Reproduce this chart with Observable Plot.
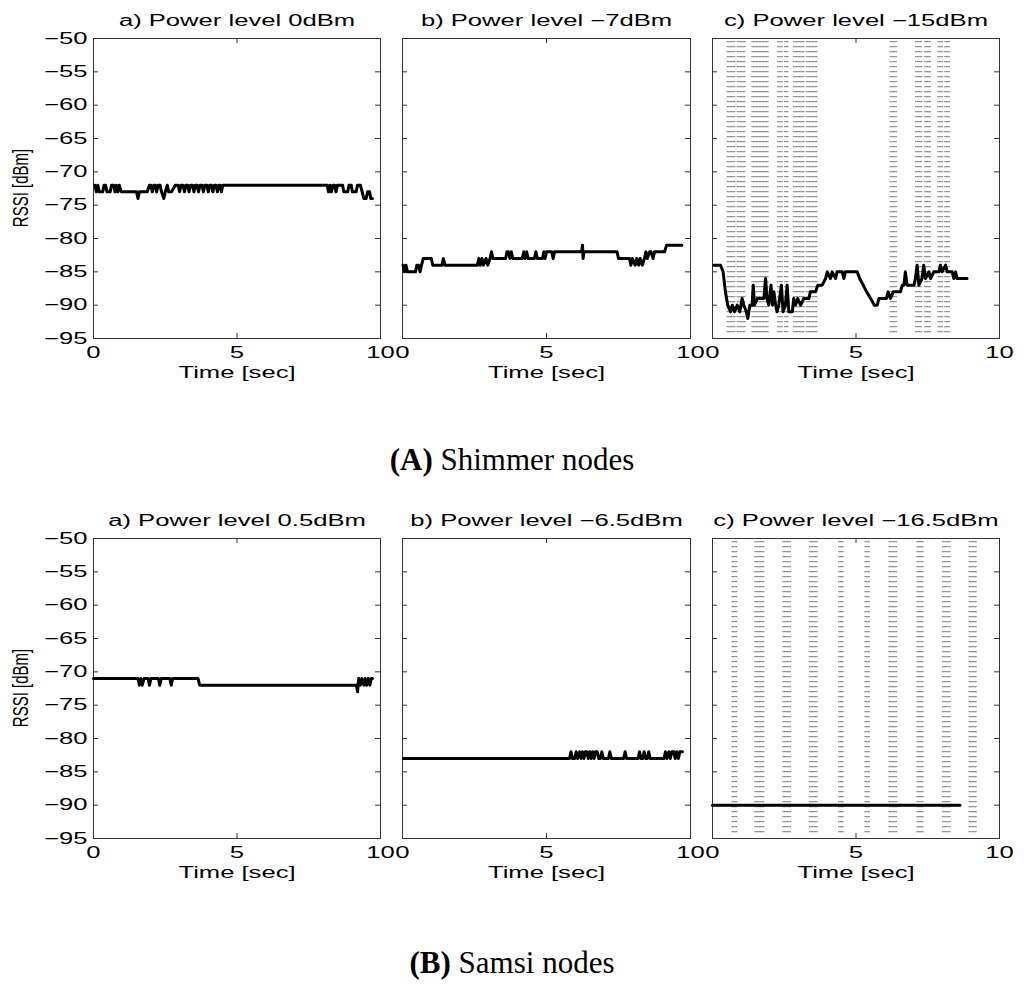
<!DOCTYPE html>
<html><head><meta charset="utf-8">
<script src="https://cdn.jsdelivr.net/npm/d3@7"></script>
<script src="https://cdn.jsdelivr.net/npm/@observablehq/plot@0.6"></script>
<style>
body{margin:0;background:#fff;}
#root{position:relative;width:1024px;height:985px;overflow:hidden;background:#fff;}
.cell{position:absolute;}
.cap{position:absolute;left:0;width:1024px;text-align:center;font-family:"Liberation Serif","Times New Roman",serif;font-size:31px;line-height:31px;color:#000;}
.ylab{position:absolute;white-space:nowrap;font-family:"Liberation Sans",Arial,Helvetica,sans-serif;font-size:15px;line-height:15px;color:#000;transform:translate(-50%,-50%) rotate(-90deg) scaleY(1.5);}
</style></head><body><div id="root"></div>
<script>
// ---- axis ticks / labels ----
const xTicks = [0, 5, 10];
const yTicks = [-50, -55, -60, -65, -70, -75, -80, -85, -90, -95];
const yLabel = "RSSI [dBm]";
const xLabel = "Time [sec]";
const shimmerTitles = ["a) Power level 0dBm", "b) Power level \u22127dBm", "c) Power level \u221215dBm"];
const samsiTitles = ["a) Power level 0.5dBm", "b) Power level \u22126.5dBm", "c) Power level \u221216.5dBm"];
const captions = [["(A)", " Shimmer nodes"], ["(B)", " Samsi nodes"]];

// ---- RSSI series [time sec, dBm] ----
const shimmer0 = [[0.05,-72],[0.1,-73],[0.15,-72],[0.2,-73],[0.32,-73],[0.37,-72],[0.42,-72],[0.47,-73],[0.58,-73],[0.63,-72],[0.7,-72],[0.75,-73],[0.8,-72],[0.85,-73],[0.9,-72],[0.97,-73],[1.5,-73],[1.55,-74],[1.6,-73],[1.87,-73],[1.95,-72],[2.0,-72],[2.05,-73],[2.1,-72],[2.15,-72],[2.2,-73],[2.25,-72],[2.32,-72],[2.37,-73],[2.45,-74],[2.5,-73],[2.57,-72],[2.62,-73],[2.72,-73],[2.85,-72],[2.95,-72],[3.0,-73],[3.05,-72],[3.12,-72],[3.17,-73],[3.22,-72],[3.28,-72],[3.33,-73],[3.38,-72],[3.45,-72],[3.5,-73],[3.55,-72],[3.61,-72],[3.66,-73],[3.71,-72],[3.78,-72],[3.83,-73],[3.88,-72],[3.95,-72],[4.0,-73],[4.05,-72],[4.11,-72],[4.16,-73],[4.21,-72],[4.27,-72],[4.32,-73],[4.37,-72],[4.41,-72],[4.46,-73],[4.5,-72],[8.14,-72],[8.19,-73],[8.24,-72],[8.29,-73],[8.34,-72],[8.4,-72],[8.45,-73],[8.5,-72],[8.68,-72],[8.72,-73],[8.86,-73],[8.9,-72],[8.98,-72],[9.02,-73],[9.15,-73],[9.2,-72],[9.3,-72],[9.36,-73],[9.42,-74],[9.5,-74],[9.55,-73],[9.62,-73],[9.66,-74],[9.72,-74]];
const shimmer7 = [[0.02,-84],[0.07,-85],[0.12,-84],[0.17,-85],[0.45,-85],[0.5,-84],[0.56,-84],[0.61,-85],[0.66,-84],[0.72,-83],[1.0,-83],[1.05,-84],[1.37,-84],[1.42,-83],[1.47,-84],[2.6,-84],[2.65,-83],[2.7,-84],[2.76,-83],[2.81,-84],[2.9,-83],[2.96,-84],[3.04,-83],[3.09,-82],[3.14,-83],[3.58,-83],[3.63,-82],[3.68,-82],[3.73,-83],[3.78,-82],[3.83,-83],[4.16,-83],[4.21,-82],[4.26,-83],[4.31,-82],[4.36,-83],[4.58,-83],[4.63,-82],[4.68,-83],[4.86,-83],[4.91,-82],[4.95,-83],[5.0,-82],[5.18,-82],[5.23,-83],[5.28,-82],[6.22,-82],[6.25,-81],[6.27,-83],[6.3,-82],[7.45,-82],[7.5,-83],[7.88,-83],[7.93,-84],[7.98,-83],[8.08,-84],[8.13,-83],[8.2,-84],[8.25,-83],[8.33,-84],[8.4,-83],[8.45,-82],[8.5,-83],[8.58,-82],[8.63,-82],[8.7,-83],[8.75,-82],[9.1,-82],[9.17,-81],[9.7,-81]];
const shimmer15 = [[0.05,-84],[0.28,-84],[0.37,-85],[0.45,-88],[0.53,-90],[0.63,-91],[0.69,-90],[0.77,-91],[0.86,-90],[0.95,-91],[1.03,-89],[1.09,-90],[1.18,-91],[1.23,-92],[1.3,-90],[1.38,-90],[1.42,-87],[1.46,-90],[1.56,-89],[1.67,-89],[1.79,-89],[1.85,-86],[1.9,-89],[1.96,-90],[2.04,-87],[2.09,-90],[2.14,-88],[2.2,-90],[2.25,-91],[2.31,-90],[2.4,-87],[2.46,-91],[2.54,-90],[2.6,-87],[2.66,-91],[2.78,-91],[2.83,-89],[2.89,-90],[2.97,-89],[3.07,-90],[3.18,-89],[3.36,-89],[3.41,-88],[3.59,-88],[3.67,-87],[3.82,-87],[3.94,-86],[4.0,-85],[4.11,-86],[4.17,-85],[4.29,-86],[4.34,-85],[4.52,-85],[4.58,-86],[4.63,-85],[5.04,-85],[5.13,-86],[5.25,-87],[5.37,-88],[5.51,-89],[5.64,-90],[5.74,-90],[5.8,-89],[6.06,-89],[6.12,-88],[6.2,-89],[6.3,-88],[6.55,-88],[6.61,-87],[6.67,-87],[6.72,-85],[6.78,-87],[7.02,-87],[7.07,-86],[7.13,-84],[7.19,-87],[7.3,-86],[7.36,-84],[7.42,-86],[7.54,-85],[7.6,-86],[7.71,-85],[7.89,-85],[7.94,-84],[8.0,-85],[8.12,-84],[8.18,-85],[8.35,-85],[8.41,-86],[8.47,-85],[8.52,-86],[8.87,-86]];
const samsi05 = [[0.0,-71],[1.55,-71],[1.6,-72],[1.65,-71],[1.7,-72],[1.76,-71],[1.9,-71],[1.95,-72],[2.0,-71],[2.26,-71],[2.31,-72],[2.36,-71],[2.66,-71],[2.71,-72],[2.76,-71],[3.64,-71],[3.7,-72],[9.16,-72],[9.2,-73],[9.24,-71],[9.3,-72],[9.35,-71],[9.42,-72],[9.47,-71],[9.52,-72],[9.57,-71],[9.63,-72],[9.68,-71],[9.72,-71]];
const samsi65 = [[0.03,-83],[5.8,-83],[5.85,-82],[5.9,-83],[5.98,-83],[6.03,-82],[6.08,-83],[6.15,-82],[6.2,-83],[6.25,-82],[6.3,-83],[6.35,-82],[6.4,-82],[6.45,-83],[6.5,-82],[6.55,-83],[6.6,-82],[6.65,-83],[6.7,-82],[6.76,-82],[6.81,-83],[6.87,-83],[6.92,-82],[6.97,-83],[7.15,-83],[7.2,-82],[7.25,-83],[7.68,-83],[7.73,-82],[7.78,-83],[8.18,-83],[8.23,-82],[8.28,-83],[8.34,-83],[8.39,-82],[8.44,-83],[8.5,-83],[8.55,-82],[8.6,-83],[9.08,-83],[9.13,-82],[9.18,-83],[9.25,-82],[9.3,-83],[9.35,-82],[9.42,-82],[9.47,-83],[9.52,-82],[9.58,-83],[9.63,-82],[9.72,-82]];
const samsi165 = [[0.0,-90],[8.62,-90]];

// ---- lost-packet instants (dashed vertical markers), sec ----
const lostShimmer15 = [0.52,0.57,0.62,0.67,0.72,0.77,0.87,0.92,0.97,1.02,1.07,1.12,1.38,1.43,1.48,1.53,1.58,1.63,1.68,1.73,1.78,1.83,1.88,1.93,2.27,2.32,2.37,2.42,2.52,2.57,2.62,2.83,2.88,2.93,2.98,3.03,3.08,3.13,3.18,3.28,3.33,3.38,3.43,3.48,3.53,3.58,3.63,6.2,6.25,6.3,6.35,6.4,7.08,7.13,7.18,7.23,7.28,7.4,7.45,7.5,7.55,7.58,7.86,7.91,7.96,8.01,8.1,8.15,8.2,8.25];
const lostSamsi165 = [0.69,0.74,0.79,0.84,1.48,1.53,1.58,1.63,1.68,1.73,1.78,2.46,2.51,2.56,2.61,2.66,2.71,3.39,3.44,3.49,3.54,3.59,3.64,4.4,4.45,4.5,4.54,5.32,5.37,5.42,5.46,6.16,6.21,6.26,6.31,6.36,6.41,7.13,7.18,7.23,7.28,7.33,8.02,8.07,8.12,8.17,8.22,8.27,8.95,9.0,9.05,9.1,9.15,9.18];

// ---- layout ----
const root = document.getElementById("root");
const FONT = '"Liberation Sans", Arial, Helvetica, sans-serif';
const PH = 300;
const cols = [
  {left: 0, mL: 93, pw: 287, mR: 11, showY: true},
  {left: 391, mL: 11, pw: 288, mR: 11, showY: false},
  {left: 701, mL: 11, pw: 287, mR: 25, showY: false}
];
const AX = "#333";

function stretch(svg, k) {
  for (const t of svg.querySelectorAll("text")) {
    const L = t.getComputedTextLength();
    if (L > 0) {
      t.setAttribute("textLength", (L * k).toFixed(1));
      t.setAttribute("lengthAdjust", "spacingAndGlyphs");
    }
  }
}

function panel(data, lost, title, col, top) {
  const {left, mL, pw, mR, showY} = col;
  const marks = [];
  if (lost) marks.push(Plot.ruleX(lost, {x: d => d, stroke: "#8c8c8c", strokeWidth: 1.5, strokeDasharray: "1.3,3.7", insetTop: 3, insetBottom: 2}));
  marks.push(
    Plot.tickY(yTicks, {y: d => d, insetRight: pw - 5, stroke: AX}),
    Plot.tickY(yTicks, {y: d => d, insetLeft: pw - 5, stroke: AX}),
    Plot.tickX(xTicks, {x: d => d, insetTop: PH - 5, stroke: AX}),
    Plot.tickX(xTicks, {x: d => d, insetBottom: PH - 5, stroke: AX}),
    Plot.frame({stroke: AX}),
    Plot.line(data, {x: d => d[0], y: d => d[1], stroke: "#000", strokeWidth: 3, strokeLinejoin: "round", strokeLinecap: "round"}),
    Plot.axisX({ticks: xTicks, tickSize: 0, tickPadding: 8, label: null, fontSize: 16}),
    Plot.text([xLabel], {frameAnchor: "bottom", lineAnchor: "bottom", dy: 39, fontSize: 16}),
    Plot.text([title], {frameAnchor: "top", lineAnchor: "bottom", dy: -13, fontSize: 16})
  );
  if (showY) {
    marks.push(Plot.axisY({ticks: yTicks, tickSize: 0, tickPadding: 6, label: null, fontSize: 16}));
  }
  const svg = Plot.plot({
    width: mL + pw + mR,
    height: 38 + PH + 62,
    marginLeft: mL, marginRight: mR, marginTop: 38, marginBottom: 62,
    x: {domain: [0, 10], axis: null},
    y: {domain: [-95, -50], axis: null},
    style: {fontFamily: FONT, fontSize: "16px", color: "#000", overflow: "visible", background: "transparent"},
    marks
  });
  const div = document.createElement("div");
  div.className = "cell";
  div.style.left = left + "px";
  div.style.top = top + "px";
  div.style.width = (mL + pw + mR) + "px";
  div.appendChild(svg);
  root.appendChild(div);
  stretch(svg, 1.6);
  if (showY) {
    const yl = document.createElement("div");
    yl.className = "ylab";
    yl.textContent = yLabel;
    yl.style.left = "20px";
    yl.style.top = (top + 188) + "px";
    root.appendChild(yl);
  }
}

const rowA = [shimmer0, shimmer7, shimmer15];
const rowB = [samsi05, samsi65, samsi165];
rowA.forEach((d, i) => panel(d, i === 2 ? lostShimmer15 : null, shimmerTitles[i], cols[i], 0));
rowB.forEach((d, i) => panel(d, i === 2 ? lostSamsi165 : null, samsiTitles[i], cols[i], 500));

captions.forEach(([b, rest], i) => {
  const c = document.createElement("div");
  c.className = "cap";
  c.style.top = (i === 0 ? 444 : 947) + "px";
  const bold = document.createElement("b");
  bold.textContent = b;
  c.appendChild(bold);
  c.appendChild(document.createTextNode(rest));
  root.appendChild(c);
});
</script></body></html>
